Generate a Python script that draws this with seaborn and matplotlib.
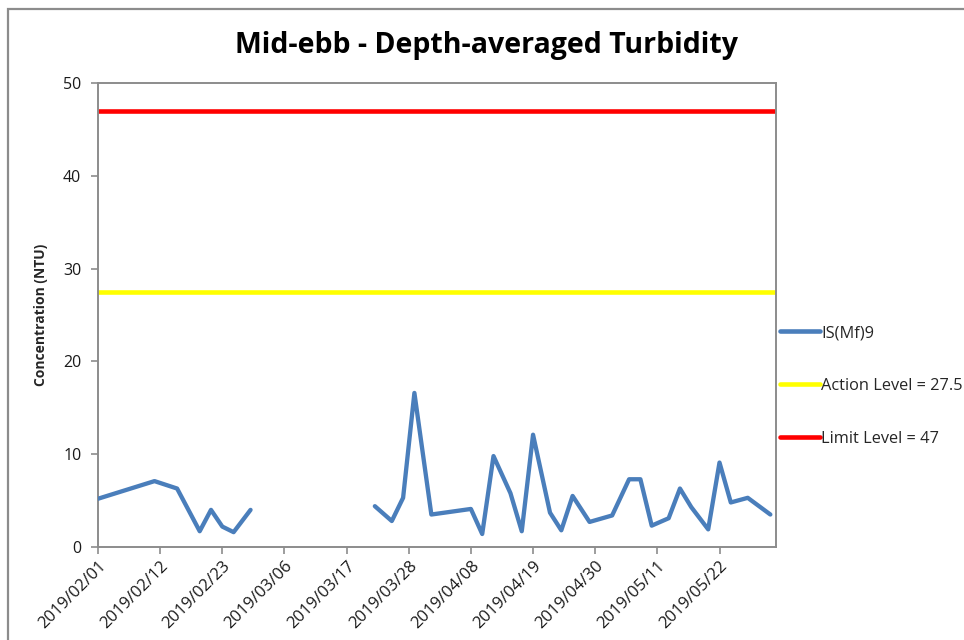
import matplotlib
matplotlib.use("Agg")
import matplotlib.pyplot as plt
import matplotlib.dates as mdates
from matplotlib.lines import Line2D
from matplotlib.patches import Rectangle
import numpy as np
import pandas as pd
import seaborn as sns

# Monitoring station IS(Mf)9, mid-ebb depth-averaged turbidity (NTU)
dates_early = ["2019-02-01", "2019-02-11", "2019-02-14", "2019-02-15", "2019-02-19",
               "2019-02-21", "2019-02-23", "2019-02-25", "2019-02-28"]
ntu_early = [5.2, 7.1, 6.5, 6.3, 1.7, 4.0, 2.2, 1.6, 4.0]

dates_late = ["2019-03-22", "2019-03-25", "2019-03-27", "2019-03-29", "2019-04-01",
              "2019-04-08", "2019-04-10", "2019-04-12", "2019-04-15", "2019-04-17",
              "2019-04-19", "2019-04-22", "2019-04-24", "2019-04-26", "2019-04-29",
              "2019-05-03", "2019-05-06", "2019-05-08", "2019-05-10", "2019-05-13",
              "2019-05-15", "2019-05-17", "2019-05-20", "2019-05-22", "2019-05-24",
              "2019-05-27", "2019-05-29", "2019-05-31"]
ntu_late = [4.4, 2.8, 5.3, 16.6, 3.5,
            4.1, 1.4, 9.8, 5.8, 1.7,
            12.1, 3.7, 1.8, 5.5, 2.7,
            3.4, 7.3, 7.3, 2.3, 3.1,
            6.3, 4.3, 1.9, 9.1, 4.8,
            5.3, 4.4, 3.5]

action_level = 27.5
limit_level = 47

station = "IS(Mf)9"
tick_dates = ["2019/02/01", "2019/02/12", "2019/02/23", "2019/03/06", "2019/03/17",
              "2019/03/28", "2019/04/08", "2019/04/19", "2019/04/30", "2019/05/11",
              "2019/05/22"]
y_ticks = [0, 10, 20, 30, 40, 50]

df = pd.DataFrame({
    "date": pd.to_datetime(dates_early + dates_late),
    "ntu": ntu_early + ntu_late,
    "segment": [0] * len(dates_early) + [1] * len(dates_late),
})

sns.set_style("ticks")
plt.rcParams["font.family"] = ["Open Sans", "DejaVu Sans"]

BLUE = "#4a7ebb"
FRAME = "#8c8c8c"

fig = plt.figure(figsize=(9.64, 6.4), dpi=100)
ax = fig.add_axes([98 / 964, 1 - 547 / 640, (776 - 98) / 964, (547 - 83) / 640])

# outer chart border
fig.patches.append(Rectangle((8 / 964, -0.2), 1.5, 1.2 - 9 / 640, transform=fig.transFigure,
                             fill=False, edgecolor=FRAME, lw=1.6, zorder=0))

ax.axhline(limit_level, color="#ff0000", lw=3.3, zorder=2)
ax.axhline(action_level, color="#ffff00", lw=3.3, zorder=2)

sns.lineplot(data=df, x="date", y="ntu", units="segment", estimator=None,
             color=BLUE, lw=3.1, ax=ax, legend=False, zorder=3)

ax.set_xlim(pd.Timestamp("2019-02-01"), pd.Timestamp("2019-06-01"))
ax.set_ylim(0, 50)
ax.set_yticks(y_ticks)
ax.set_xticks(pd.to_datetime(tick_dates))
ax.xaxis.set_major_formatter(mdates.DateFormatter("%Y/%m/%d"))
ax.tick_params(axis="both", colors=FRAME, labelcolor="#1a1a1a", length=5, width=1.2,
               direction="out")
ax.tick_params(axis="x", labelsize=12, pad=3)
ax.tick_params(axis="y", labelsize=11.5, pad=7)
plt.setp(ax.get_xticklabels(), rotation=45, ha="right", rotation_mode="anchor")

for s in ax.spines.values():
    s.set_color(FRAME)
    s.set_linewidth(1.4)

ax.set_xlabel("")
ax.set_ylabel("Concentration (NTU)", fontsize=10, fontweight="bold", labelpad=11)

fig.text(0.505, 1 - 45 / 640, "Mid-ebb - Depth-averaged Turbidity", ha="center", va="center",
         fontsize=20.5, fontweight="bold", color="#000000")

handles = [Line2D([], [], color=BLUE, lw=3.3),
           Line2D([], [], color="#ffff00", lw=3.3),
           Line2D([], [], color="#ff0000", lw=3.3)]
labels = [station, f"Action Level = {action_level}", f"Limit Level = {limit_level}"]
fig.legend(handles, labels, loc="center left", bbox_to_anchor=(773 / 964, 1 - 386 / 640),
           frameon=False, fontsize=11.8, handlelength=2.45, handletextpad=0.1,
           labelspacing=2.25, borderaxespad=0)

fig.savefig("out.png", dpi=100)
